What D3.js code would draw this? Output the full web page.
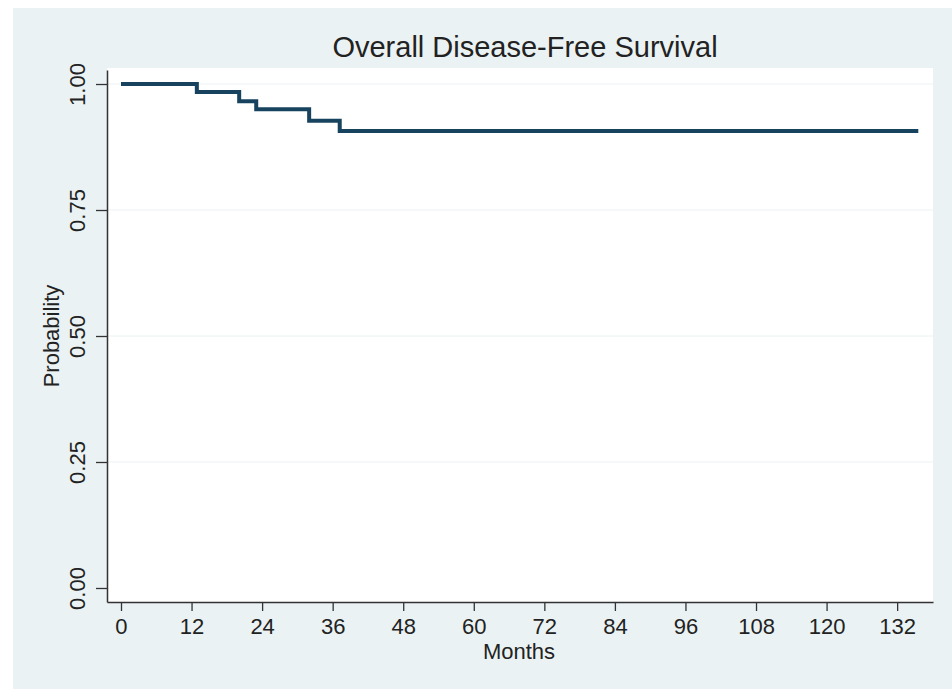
<!DOCTYPE html>
<html>
<head>
<meta charset="utf-8">
<script src="https://cdn.jsdelivr.net/npm/d3@7"></script>
<style>
  body { margin: 0; background: #fff; }
  text { font-family: "Liberation Sans", Arial, sans-serif; fill: #222; }
</style>
</head>
<body>
<svg id="chart" width="952" height="689"></svg>
<script>
// Kaplan-Meier steps
const months = [0, 12.9, 20.1, 23, 32, 37.2, 135.6];
const survival = [1, 0.984, 0.966, 0.95, 0.927, 0.907, 0.907];
const xTicks = [0, 12, 24, 36, 48, 60, 72, 84, 96, 108, 120, 132];
const yTicks = [0, 0.25, 0.5, 0.75, 1];

const width = 952;
const height = 689;
const margin = { top: 70, right: 19, bottom: 87, left: 107 };

const svg = d3.select("#chart");

// outer graph region
svg.append("rect")
  .attr("x", 13).attr("y", 8)
  .attr("width", width - 13).attr("height", height - 8)
  .attr("fill", "#eaf2f3");

// plot region
svg.append("rect")
  .attr("x", margin.left).attr("y", margin.top - 2)
  .attr("width", width - margin.left - margin.right)
  .attr("height", height - margin.top - margin.bottom + 2)
  .attr("fill", "#fff");

const x = d3.scaleLinear()
  .domain([-2.38, 138.1])
  .range([margin.left, width - margin.right]);

const y = d3.scaleLinear()
  .domain([-0.0278, 1.0278])
  .range([height - margin.bottom, margin.top]);

// grid lines
svg.append("g")
  .selectAll("line")
  .data(yTicks.filter(d => d > 0))
  .join("line")
  .attr("x1", margin.left).attr("x2", width - margin.right)
  .attr("y1", d => y(d)).attr("y2", d => y(d))
  .attr("stroke", "#eaf2f3")
  .attr("stroke-width", 1);

// survival curve
const line = d3.line()
  .x((d, i) => x(months[i]))
  .y(d => y(d))
  .curve(d3.curveStepAfter);

svg.append("path")
  .datum(survival)
  .attr("d", line)
  .attr("fill", "none")
  .attr("stroke", "#17435f")
  .attr("stroke-width", 4);

// axes
const xAxis = g => g
  .attr("transform", `translate(0,${height - margin.bottom})`)
  .call(d3.axisBottom(x).tickValues(xTicks).tickSize(9).tickPadding(7).tickSizeOuter(0));

const yAxis = g => g
  .attr("transform", `translate(${margin.left},0)`)
  .call(d3.axisLeft(y).tickValues(yTicks).tickFormat(d3.format(".2f")).tickSize(11).tickSizeOuter(0));

const gx = svg.append("g").call(xAxis);
gx.select(".domain").attr("stroke", "#333").attr("stroke-width", 1.5);
gx.selectAll(".tick line").attr("stroke", "#333").attr("stroke-width", 1.3);
gx.selectAll(".tick text")
  .attr("font-size", 22)
  .attr("font-family", "Liberation Sans, Arial, sans-serif")
  .attr("fill", "#222");

const gy = svg.append("g").call(yAxis);
gy.select(".domain").attr("stroke", "#333").attr("stroke-width", 1.5);
gy.selectAll(".tick line").attr("stroke", "#333").attr("stroke-width", 1.3);
gy.selectAll(".tick text")
  .attr("font-size", 22)
  .attr("font-family", "Liberation Sans, Arial, sans-serif")
  .attr("fill", "#222")
  .attr("text-anchor", "middle")
  .attr("x", null)
  .attr("dy", null)
  .attr("transform", "translate(-22,0) rotate(-90)");

// title and axis titles
svg.append("text")
  .attr("x", 525).attr("y", 57)
  .attr("text-anchor", "middle")
  .attr("font-size", 29)
  .attr("fill", "#2a3d52")
  .text("Overall Disease-Free Survival");

svg.append("text")
  .attr("x", 519).attr("y", 659)
  .attr("text-anchor", "middle")
  .attr("font-size", 22)
  .text("Months");

svg.append("text")
  .attr("transform", `translate(59,${y(0.5)}) rotate(-90)`)
  .attr("text-anchor", "middle")
  .attr("font-size", 22)
  .text("Probability");
</script>
</body>
</html>
